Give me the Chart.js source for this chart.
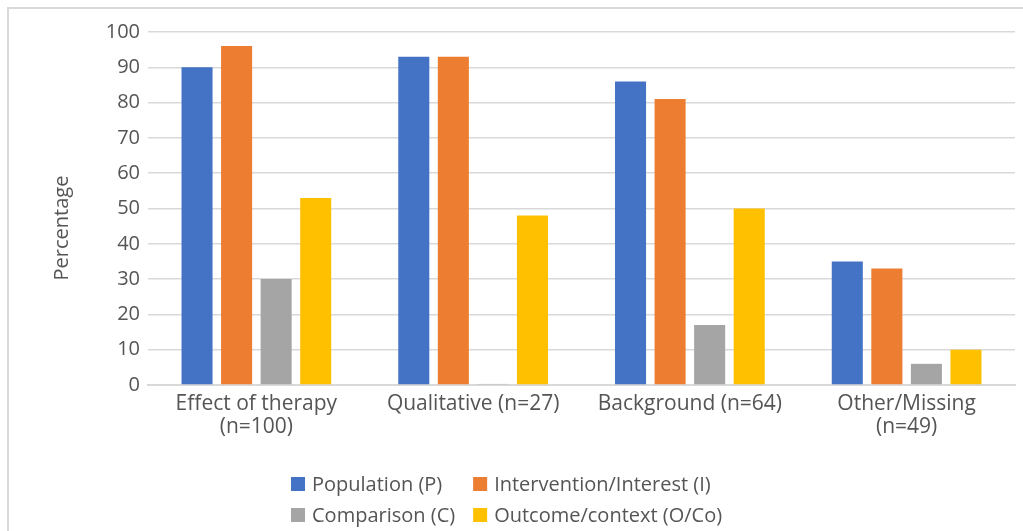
<!DOCTYPE html>
<html>
<head>
<meta charset="utf-8">
<script src="https://cdn.jsdelivr.net/npm/chart.js@4/dist/chart.umd.min.js"></script>
<style>
  html, body { margin: 0; padding: 0; background: #fff; }
  #wrap { position: relative; width: 1023px; height: 531px; }
</style>
</head>
<body>
<div id="wrap"><canvas id="c" width="1023" height="531"></canvas></div>
<script>
// Study categories (x axis)
const categories = [
  ["Effect of therapy", "(n=100)"],
  "Qualitative (n=27)",
  "Background (n=64)",
  ["Other/Missing", "(n=49)"]
];

// Share of questions containing each PICO element, per category (%)
const population   = [90, 93, 86, 35];
const intervention = [96, 93, 81, 33];
const comparison   = [30, 0.3, 17, 6];
const outcome      = [53, 48, 50, 10];

const seriesNames  = ["Population (P)", "Intervention/Interest (I)", "Comparison (C)", "Outcome/context (O/Co)"];
const seriesColors = ["#4472C4", "#ED7D31", "#A5A5A5", "#FFC000"];

const yTicks = [0, 10, 20, 30, 40, 50, 60, 70, 80, 90, 100];
const yTitle = "Percentage";

const FONT = "'Open Sans', 'Noto Sans', sans-serif";
const SIZE = 20;
const TEXT = "#555555";

// Outer frame of the chart area
const framePlugin = {
  id: 'frame',
  beforeDraw(chart) {
    const ctx = chart.ctx;
    ctx.save();
    ctx.strokeStyle = '#d9d9d9';
    ctx.lineWidth = 2;
    ctx.beginPath();
    ctx.moveTo(8, chart.height + 5);
    ctx.lineTo(8, 8);
    ctx.lineTo(chart.width + 5, 8);
    ctx.stroke();
    ctx.restore();
  }
};

// Rotated y-axis title
const yTitlePlugin = {
  id: 'yTitle',
  afterDraw(chart) {
    const ctx = chart.ctx;
    ctx.save();
    ctx.translate(62, 228);
    ctx.rotate(-Math.PI / 2);
    ctx.font = SIZE + "px " + FONT;
    ctx.fillStyle = TEXT;
    ctx.textAlign = 'center';
    ctx.textBaseline = 'middle';
    ctx.fillText(yTitle, 0, 0);
    ctx.restore();
  }
};

// Two-column legend beneath the axis
const legendPlugin = {
  id: 'gridLegend',
  afterDraw(chart) {
    const ctx = chart.ctx;
    const ds = chart.data.datasets;
    ctx.save();
    ctx.font = SIZE + "px " + FONT;
    ctx.textBaseline = 'middle';
    const box = 14, gap = 7, colGap = 18;
    const colW = [0, 0];
    ds.forEach((d, i) => {
      const w = box + gap + ctx.measureText(d.label).width;
      colW[i % 2] = Math.max(colW[i % 2], w);
    });
    const startX = 291;
    const rowsY = [484, 515];
    ds.forEach((d, i) => {
      const col = i % 2, row = Math.floor(i / 2);
      const x = startX + (col === 0 ? 0 : colW[0] + colGap);
      const y = rowsY[row];
      ctx.fillStyle = d.backgroundColor;
      ctx.fillRect(x, y - box / 2, box, box);
      ctx.fillStyle = TEXT;
      ctx.fillText(d.label, x + box + gap, y + 1);
    });
    ctx.restore();
  }
};

const datasets = [population, intervention, comparison, outcome].map((vals, i) => ({
  label: seriesNames[i],
  data: vals,
  backgroundColor: seriesColors[i],
  borderWidth: 0,
  categoryPercentage: 0.73,
  barPercentage: 0.785
}));

new Chart(document.getElementById('c'), {
  type: 'bar',
  data: { labels: categories, datasets },
  options: {
    responsive: false,
    animation: false,
    layout: { padding: { top: 32, right: 8, left: 0, bottom: 0 } },
    plugins: {
      legend: { display: false },
      tooltip: { enabled: false }
    },
    scales: {
      x: {
        grid: { display: false, drawTicks: false },
        border: { display: true, color: '#d9d9d9', width: 2 },
        ticks: {
          color: TEXT,
          font: { family: FONT, size: 21, lineHeight: 1.1 },
          padding: 7,
          maxRotation: 0,
          autoSkip: false
        },
        afterFit(scale) { scale.height = 146; }
      },
      y: {
        min: 0,
        max: 100,
        afterBuildTicks(scale) { scale.ticks = yTicks.map(v => ({ value: v })); },
        grid: { color: '#d9d9d9', lineWidth: 1.5, drawTicks: false },
        border: { display: false },
        ticks: {
          color: TEXT,
          font: { family: FONT, size: SIZE },
          padding: 8
        },
        afterFit(scale) { scale.width = 148; }
      }
    }
  },
  plugins: [framePlugin, yTitlePlugin, legendPlugin]
});
</script>
</body>
</html>
